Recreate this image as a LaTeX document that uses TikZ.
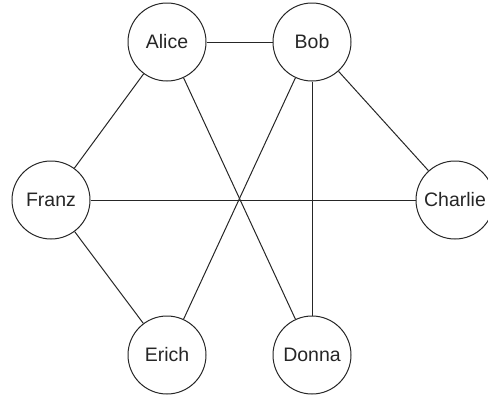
\documentclass[tikz,border=0pt]{standalone}
\usepackage{fontspec}
\setmainfont{Liberation Sans}
\usepackage{tikz}
\usetikzlibrary{shapes,positioning}

\begin{document}
\begin{tikzpicture}[x=1pt,y=-1pt,
  person/.style={draw=black!85,line width=1pt,circle,fill=white,minimum size=78pt,inner sep=0pt,font=\fontsize{19.5}{22}\selectfont,text=black!85},
  link/.style={draw=black!85,line width=1pt}]
 \useasboundingbox (0,0) rectangle (488,399);
 % people
 \node[person] (alice)   at (167,42)  {Alice};
 \node[person] (bob)     at (312,42)  {Bob};
 \node[person] (franz)   at (51,200)  {Franz};
 \node[person] (charlie) at (455,200) {Charlie};
 \node[person] (erich)   at (167,355) {Erich};
 \node[person] (donna)   at (312,355) {Donna};

 % links
 \draw[link] (alice) -- (bob);
 \draw[link] (alice) -- (franz);
 \draw[link] (alice) -- (donna);
 \draw[link] (bob) -- (erich);
 \draw[link] (bob) -- (charlie);
 \draw[link] (bob.south) -- (donna.north);
 \draw[link] (franz) -- (charlie);
 \draw[link] (franz) -- (erich);
\end{tikzpicture}
\end{document}
